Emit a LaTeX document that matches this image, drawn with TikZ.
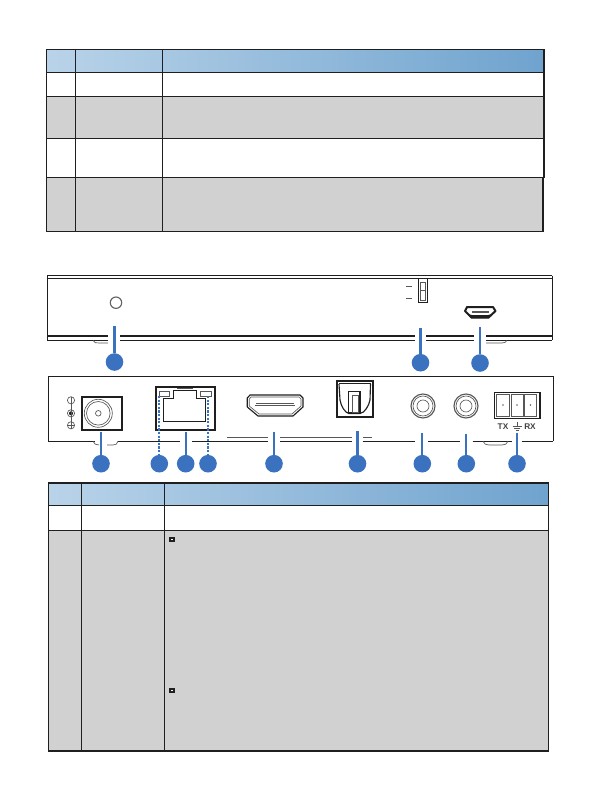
\documentclass[tikz,border=0pt]{standalone}
\usepackage{fontspec}
\setmainfont{Liberation Sans}
\definecolor{blueDot}{HTML}{3A72C0}
\definecolor{rowGrey}{HTML}{D1D1D1}
\definecolor{headLeft}{HTML}{B9D3E9}
\definecolor{headRight}{HTML}{6FA3CE}
\definecolor{ink}{HTML}{1F1F1F}
\tikzset{
  rowline/.style={draw=ink, line width=0.95pt},
  part/.style={draw=ink, line width=0.85pt},
  thinpart/.style={draw=ink!75, line width=0.5pt},
  callout/.style={circle, fill=blueDot, minimum size=13.2pt, inner sep=0pt},
  leader/.style={draw=blueDot, line width=1.6pt},
  dotleader/.style={draw=blueDot, line width=1.6pt, dash pattern=on 1.6pt off 1.1pt}
}
\begin{document}
\begin{tikzpicture}[x=0.75pt, y=-0.75pt, every node/.style={font=\fontsize{6.2}{7}\selectfont\bfseries, text=ink!85}]
  \useasboundingbox (0,0) rectangle (596,795);

  % Upper table
  \shade[left color=headLeft, right color=headRight] (46.5,49.3) rectangle (544,72.3);
  \fill[rowGrey] (46.5,96.3) rectangle (544,138.3);
  \fill[rowGrey] (46.5,177.3) rectangle (543,231.3);
  \draw[rowline] (46.5,49.3) rectangle (544,177.3);
  \draw[rowline] (46.5,177.3) rectangle (543,231.3);
  \draw[rowline] (46.5,72.3) -- (544,72.3);
  \draw[rowline] (46.5,96.3) -- (544,96.3);
  \draw[rowline] (46.5,138.3) -- (544,138.3);
  \draw[rowline] (75.3,49.3) -- (75.3,231.3);
  \draw[rowline] (162.3,49.3) -- (162.3,231.3);

  % Front panel
  \draw[part] (47.3,275.7) -- (552.3,275.7);
  \draw[part] (47.3,278.7) -- (552.3,278.7);
  \draw[part] (47.3,275.7) -- (47.3,340.3);
  \draw[part] (552.3,275.7) -- (552.3,340.3);
  \draw[part] (47.3,336) -- (108,336) (120,336) -- (415,336) (426,336) -- (474,336) (486,336) -- (552.3,336);
  \draw[part] (47.3,340.3) -- (108,340.3) (120,340.3) -- (415,340.3) (426,340.3) -- (474,340.3) (486,340.3) -- (552.3,340.3);
  \draw[thinpart] (93,340.3) .. controls (94,343) and (96,343) .. (99,343) -- (108,343);
  \draw[thinpart] (486,343) -- (502,343) .. controls (505,343) and (506,342) .. (507,340.3);
  \draw[part, draw=ink!70] (116,302.7) circle (5.7);

  % Slide switch
  \draw[part] (418.3,278.7) rectangle (427.7,302.3);
  \draw[thinpart] (420.5,282) rectangle (425.5,300);
  \draw[thinpart] (420.5,290.5) -- (425.5,290.5);
  \draw[thinpart] (406,286.7) -- (412,286.7);
  \draw[thinpart] (406,298.3) -- (412,298.3);

  % Micro USB
  \fill[ink] (465,311) -- (471,318.5) -- (489,318.5) -- (496,311) -- (493,314) -- (488,315) -- (472,315) -- (467,314) -- cycle;
  \draw[ink, line width=1.5pt, line join=round] (467,307) -- (493,307) -- (495.5,311) -- (489,317) -- (471,317) -- (465,311) -- cycle;
  \draw[thinpart] (472,311.5) rectangle (488,312.5);

  % Rear panel
  \draw[part, line width=1pt] (48.3,441.3) -- (48.3,376.7) -- (553.3,376.7) -- (553.3,441.3);
  \draw[part] (48.3,441.3) -- (95,441.3) (118,441.3) -- (180,441.3) (192,441.3) -- (268,441.3) (280,441.3) -- (352,441.3) (362.7,441.3) -- (415,441.3) (428,441.3) -- (460,441.3) (472.7,441.3) -- (511.7,441.3) (521.7,441.3) -- (553.3,441.3);
  \draw[thinpart] (227,437.7) -- (268,437.7) (280,437.7) -- (352,437.7) (362.7,437.7) -- (372,437.7);
  \draw[thinpart] (93,441.3) .. controls (94,444) and (96,445) .. (99,445);
  \draw[thinpart] (107,445) -- (113,445) .. controls (116,445) and (117,444) .. (118,441.3);
  \draw[thinpart] (483,441.3) .. controls (484,444) and (486,445) .. (489,445) -- (502,445) .. controls (505,445) and (507,444) .. (508,441.3);

  % Power input
  \draw[ink, line width=1.3pt] (81.7,396.7) rectangle (122.3,430);
  \draw[thinpart] (98.3,413.3) circle (14);
  \draw[thinpart] (98.3,413.3) circle (11.8);
  \draw[thinpart] (98.3,413.3) circle (2.8);
  \draw[thinpart] (71,400.3) circle (3.6);
  \draw[thinpart] (71,413.3) circle (3.6);
  \fill[ink] (71,413.3) circle (2);
  \draw[thinpart] (71,425.3) circle (3.6);
  \draw[thinpart] (71,396.7) -- (71,429);
  \draw[thinpart] (67.4,425.3) -- (74.6,425.3);

  % RJ45
  \draw[ink, line width=1.3pt] (155.7,387.3) rectangle (215.3,429.7);
  \draw[part] (163.3,398.3) -- (173.3,398.3) -- (173.3,390.7) -- (196.7,390.7) -- (196.7,398.3) -- (205.7,398.3) -- (205.7,421.7) -- (163.3,421.7) -- cycle;
  \draw[thinpart] (177,388) -- (192.7,388);
  \draw[thinpart] (159.3,391.7) rectangle (169.3,396);
  \draw[thinpart] (200.3,391.7) rectangle (211,396);

  % HDMI
  \draw[part, line join=round] (250,395) -- (300,395) -- (303,398) -- (303,407) -- (293,416) -- (258,416) -- (247.3,407) -- (247.3,398) -- cycle;
  \draw[thinpart] (251,397) -- (299,397) -- (301,399) -- (301,406) -- (292,414) -- (259,414) -- (249.3,406) -- (249.3,399) -- cycle;
  \draw[thinpart] (255,405.5) -- (295,405.5);
  \draw[thinpart] (256,403.8) -- (294,403.8);

  % Optical
  \draw[ink, line width=1.4pt] (336.7,381) rectangle (372.7,417.3);
  \draw[ink, line width=0.9pt] (339,383.5) -- (370.5,383.5);
  \draw[part] (339,384) -- (340,400) .. controls (341,406) and (345,413) .. (349,413.5) -- (360,413.5) .. controls (365,413) and (369,405) .. (370,400) -- (370.5,384);
  \draw[part] (348.5,391.7) rectangle (360,413);
  \draw[thinpart] (352,395) rectangle (358,412);

  % RCA sockets
  \draw[part, draw=ink!75] (423,406) circle (12);
  \draw[thinpart] (423,406) circle (10);
  \draw[thinpart] (423,406) circle (6);
  \draw[part, draw=ink!75] (466,406) circle (12);
  \draw[thinpart] (466,406) circle (10);
  \draw[thinpart] (466,406) circle (6);

  % Terminal block
  \draw[part] (494.3,392.7) rectangle (540,418.7);
  \draw[thinpart] (496.7,394.7) rectangle (509.3,416.7);
  \draw[thinpart] (511.3,394.7) rectangle (523,416.7);
  \draw[thinpart] (524.3,394.7) rectangle (536.7,416.7);
  \fill[ink!70] (503,405) circle (0.9);
  \fill[ink!70] (517,405) circle (0.9);
  \fill[ink!70] (530.5,405) circle (0.9);
  \node (txlabel) at (503,427) {TX};
  \node (rxlabel) at (530,427) {RX};
  \draw[thinpart] (517,421.5) -- (517,426.5);
  \draw[thinpart] (512.5,426.5) -- (521.5,426.5);
  \draw[thinpart] (514,428.5) -- (520,428.5);
  \draw[thinpart] (515.5,430.3) -- (518.5,430.3);

  % Callouts front
  \node[callout] (front1) at (114.5,362) {};
  \node[callout] (front2) at (420.5,362.7) {};
  \node[callout] (front3) at (480,363) {};
  \coordinate (front1top) at (114.5,326);
  \coordinate (front2top) at (420.5,328);
  \coordinate (front3top) at (480,327);
  \draw[leader] (front1top) -- (front1);
  \draw[leader] (front2top) -- (front2);
  \draw[leader] (front3top) -- (front3);

  % Callouts rear
  \node[callout] (rear1) at (101,463.7) {};
  \node[callout] (rear2) at (159.3,463.7) {};
  \node[callout] (rear3) at (185.7,463.7) {};
  \node[callout] (rear4) at (208,463.7) {};
  \node[callout] (rear5) at (274,463.7) {};
  \node[callout] (rear6) at (357.5,463.7) {};
  \node[callout] (rear7) at (422.3,463.7) {};
  \node[callout] (rear8) at (466.3,463.7) {};
  \node[callout] (rear9) at (517,463.7) {};
  \coordinate (rear1top) at (101,432.3);
  \coordinate (rear2top) at (159.3,396);
  \coordinate (rear3top) at (185.7,432.3);
  \coordinate (rear4top) at (208,396);
  \coordinate (rear5top) at (274,432.3);
  \coordinate (rear6top) at (357.5,431);
  \coordinate (rear7top) at (422.3,433);
  \coordinate (rear8top) at (466.3,434);
  \coordinate (rear9top) at (517,432.5);
  \draw[leader] (rear1top) -- (rear1);
  \draw[dotleader] (rear2top) -- (rear2);
  \draw[leader] (rear3top) -- (rear3);
  \draw[dotleader] (rear4top) -- (rear4);
  \draw[leader] (rear5top) -- (rear5);
  \draw[leader] (rear6top) -- (rear6);
  \draw[leader] (rear7top) -- (rear7);
  \draw[leader] (rear8top) -- (rear8);
  \draw[leader] (rear9top) -- (rear9);

  % Lower table
  \shade[left color=headLeft, right color=headRight] (48.3,483) rectangle (548.3,505.3);
  \fill[rowGrey] (48.3,530.3) rectangle (548.3,751);
  \draw[rowline] (48.3,483) rectangle (548.3,751);
  \draw[rowline] (48.3,505.3) -- (548.3,505.3);
  \draw[rowline] (48.3,530.3) -- (548.3,530.3);
  \draw[rowline] (81.3,483) -- (81.3,751);
  \draw[rowline] (164.3,483) -- (164.3,751);

  % Bullets
  \fill[ink] (169,536.7) rectangle (175,542);
  \fill[white] (171,539) rectangle (173,539.9);
  \fill[ink] (169,687.7) rectangle (175,693);
  \fill[white] (171,690) rectangle (173,690.9);
\end{tikzpicture}
\end{document}
